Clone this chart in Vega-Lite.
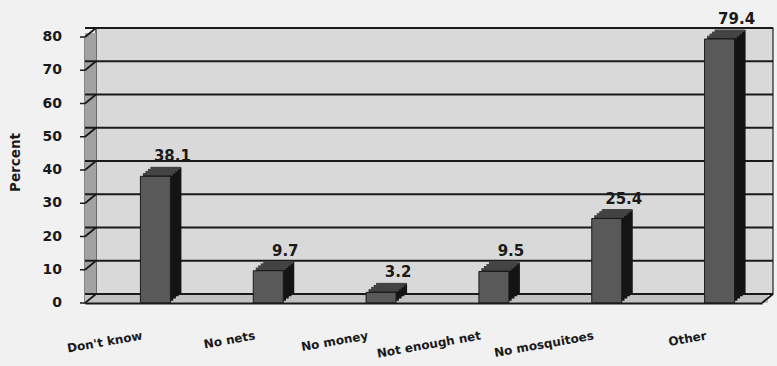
{
  "$schema": "https://vega.github.io/schema/vega-lite/v6.json",
  "width": 677,
  "height": 266,
  "autosize": {"type": "none"},
  "padding": {"left": 85, "top": 37, "right": 15, "bottom": 63},
  "background": "#f1f1f1",
  "config": {
    "view": {"stroke": null},
    "font": "DejaVu Sans"
  },
  "datasets": {
    "bars": [
      {"cat": "Don't know", "value": 38.1},
      {"cat": "No nets", "value": 9.7},
      {"cat": "No money", "value": 3.2},
      {"cat": "Not enough net", "value": 9.5},
      {"cat": "No mosquitoes", "value": 25.4},
      {"cat": "Other", "value": 79.4}
    ],
    "grid": [
      {"v": 0}, {"v": 10}, {"v": 20}, {"v": 30}, {"v": 40},
      {"v": 50}, {"v": 60}, {"v": 70}, {"v": 80}
    ],
    "one": [{"part": "frame"}]
  },
  "layer": [
    {
      "data": {"name": "one"},
      "mark": {"type": "rect", "fill": "#d9d9d9", "stroke": "#222222", "strokeWidth": 1.2,
               "xOffset": 11, "x2Offset": 11, "yOffset": -9, "y2Offset": -9},
      "encoding": {
        "x": {"datum": "Don't know", "type": "nominal", "bandPosition": 0,
              "scale": {"type": "band", "paddingInner": 0, "paddingOuter": 0,
                        "domain": ["Don't know", "No nets", "No money", "Not enough net", "No mosquitoes", "Other"]}},
        "x2": {"datum": "Other", "bandPosition": 1},
        "y": {"datum": 80, "type": "quantitative", "scale": {"domain": [0, 80], "nice": false}},
        "y2": {"datum": 0}
      }
    },
    {
      "data": {"name": "one"},
      "mark": {"type": "rect", "fill": "#a2a2a2", "x2Offset": 11, "yOffset": -4},
      "encoding": {
        "x": {"datum": "Don't know", "type": "nominal", "bandPosition": 0},
        "x2": {"datum": "Don't know", "bandPosition": 0},
        "y": {"datum": 80, "type": "quantitative"},
        "y2": {"datum": 0}
      }
    },
    {
      "data": {"name": "one"},
      "mark": {"type": "rect", "fill": "#c2c2c2", "x2Offset": 6, "yOffset": -9},
      "encoding": {
        "x": {"datum": "Don't know", "type": "nominal", "bandPosition": 0},
        "x2": {"datum": "Other", "bandPosition": 1},
        "y": {"datum": 0, "type": "quantitative"},
        "y2": {"datum": 0}
      }
    },
    {
      "data": {"name": "grid"},
      "mark": {"type": "rule", "stroke": "#1a1a1a", "strokeWidth": 2.2,
               "xOffset": 11, "x2Offset": 11, "yOffset": -9, "y2Offset": -9},
      "encoding": {
        "y": {"field": "v", "type": "quantitative"}
      }
    },
    {
      "data": {"name": "grid"},
      "mark": {"type": "rule", "stroke": "#1a1a1a", "strokeWidth": 1.8, "x2Offset": 11, "y2Offset": -9},
      "encoding": {
        "x": {"datum": "Don't know", "type": "nominal", "bandPosition": 0},
        "x2": {"datum": "Don't know", "bandPosition": 0},
        "y": {"field": "v", "type": "quantitative"},
        "y2": {"field": "v"}
      }
    },
    {
      "data": {"name": "grid"},
      "mark": {"type": "rule", "stroke": "#1a1a1a", "strokeWidth": 1.5, "xOffset": -5},
      "encoding": {
        "x": {"datum": "Don't know", "type": "nominal", "bandPosition": 0},
        "x2": {"datum": "Don't know", "bandPosition": 0},
        "y": {"field": "v", "type": "quantitative"},
        "y2": {"field": "v"}
      }
    },
    {
      "data": {"name": "grid"},
      "mark": {"type": "text", "font": "DejaVu Sans", "fontWeight": "bold", "fontSize": 14, "color": "#1a1a1a",
               "align": "right", "baseline": "middle", "xOffset": -23},
      "encoding": {
        "x": {"datum": "Don't know", "type": "nominal", "bandPosition": 0},
        "y": {"field": "v", "type": "quantitative"},
        "text": {"field": "v", "type": "quantitative", "format": "d"}
      }
    },
    {
      "data": {"name": "one"},
      "mark": {"type": "rule", "stroke": "#1a1a1a", "strokeWidth": 1.8, "x2Offset": 11, "y2Offset": -9},
      "encoding": {
        "x": {"datum": "Other", "type": "nominal", "bandPosition": 1},
        "x2": {"datum": "Other", "bandPosition": 1},
        "y": {"datum": 0, "type": "quantitative"},
        "y2": {"datum": 0}
      }
    },
    {
      "data": {"name": "bars"},
      "mark": {"type": "bar", "width": 30, "fill": "#141414", "xOffset": 25, "yOffset": -9, "y2Offset": -9},
      "encoding": {
        "x": {"field": "cat", "type": "nominal", "sort": null},
        "y": {"field": "value", "type": "quantitative"}
      }
    },
    {
      "data": {"name": "bars"},
      "mark": {"type": "bar", "width": 30, "fill": "#141414", "xOffset": 22.25, "yOffset": -6.75, "y2Offset": -6.75},
      "encoding": {
        "x": {"field": "cat", "type": "nominal", "sort": null},
        "y": {"field": "value", "type": "quantitative"}
      }
    },
    {
      "data": {"name": "bars"},
      "mark": {"type": "bar", "width": 30, "fill": "#141414", "xOffset": 19.5, "yOffset": -4.5, "y2Offset": -4.5},
      "encoding": {
        "x": {"field": "cat", "type": "nominal", "sort": null},
        "y": {"field": "value", "type": "quantitative"}
      }
    },
    {
      "data": {"name": "bars"},
      "mark": {"type": "bar", "width": 30, "fill": "#141414", "xOffset": 16.75, "yOffset": -2.25, "y2Offset": -2.25},
      "encoding": {
        "x": {"field": "cat", "type": "nominal", "sort": null},
        "y": {"field": "value", "type": "quantitative"}
      }
    },
    {
      "data": {"name": "bars"},
      "mark": {"type": "tick", "size": 30, "thickness": 2.6, "color": "#444444", "opacity": 1, "xOffset": 24, "yOffset": -8.2},
      "encoding": {
        "x": {"field": "cat", "type": "nominal", "sort": null},
        "y": {"field": "value", "type": "quantitative"}
      }
    },
    {
      "data": {"name": "bars"},
      "mark": {"type": "tick", "size": 30, "thickness": 2.6, "color": "#444444", "opacity": 1, "xOffset": 21.5, "yOffset": -6.1},
      "encoding": {
        "x": {"field": "cat", "type": "nominal", "sort": null},
        "y": {"field": "value", "type": "quantitative"}
      }
    },
    {
      "data": {"name": "bars"},
      "mark": {"type": "tick", "size": 30, "thickness": 2.6, "color": "#444444", "opacity": 1, "xOffset": 19, "yOffset": -4.1},
      "encoding": {
        "x": {"field": "cat", "type": "nominal", "sort": null},
        "y": {"field": "value", "type": "quantitative"}
      }
    },
    {
      "data": {"name": "bars"},
      "mark": {"type": "tick", "size": 30, "thickness": 2.6, "color": "#444444", "opacity": 1, "xOffset": 16.5, "yOffset": -2},
      "encoding": {
        "x": {"field": "cat", "type": "nominal", "sort": null},
        "y": {"field": "value", "type": "quantitative"}
      }
    },
    {
      "data": {"name": "bars"},
      "mark": {"type": "bar", "width": 30, "fill": "#595959", "stroke": "#1a1a1a", "strokeWidth": 1, "xOffset": 14},
      "encoding": {
        "x": {"field": "cat", "type": "nominal", "sort": null,
              "axis": {
                "title": null, "ticks": false, "domain": true, "domainColor": "#1a1a1a", "domainWidth": 2,
                "labelAngle": -10, "labelAlign": "right", "labelBaseline": "top", "labelPadding": 27,
                "labelFont": "DejaVu Sans", "labelFontWeight": "bold", "labelFontSize": 12, "labelColor": "#1a1a1a",
                "labelOverlap": false, "grid": false
              }},
        "y": {"field": "value", "type": "quantitative",
              "axis": {
                "title": "Percent", "grid": false,
                "domain": true, "domainColor": "#1a1a1a", "domainWidth": 2,
                "ticks": true, "tickSize": 5, "tickWidth": 1.5, "tickColor": "#1a1a1a", "tickOpacity": 0,
                "labelOpacity": 0, "labelPadding": 18, "labelFont": "DejaVu Sans", "labelFontWeight": "bold",
                "labelFontSize": 14, "labelColor": "#1a1a1a",
                "titleFont": "DejaVu Sans", "titleFontWeight": "bold", "titleFontSize": 13.5, "titleColor": "#1a1a1a",
                "titlePadding": 20, "titleY": 125
              }}
      }
    },
    {
      "data": {"name": "bars"},
      "mark": {"type": "text", "font": "DejaVu Sans", "fontWeight": "bold", "fontSize": 15, "color": "#1a1a1a",
               "baseline": "alphabetic", "align": "center", "xOffset": 31, "yOffset": -15},
      "encoding": {
        "x": {"field": "cat", "type": "nominal", "sort": null},
        "y": {"field": "value", "type": "quantitative"},
        "text": {"field": "value", "type": "quantitative", "format": ".1f"}
      }
    }
  ]
}
